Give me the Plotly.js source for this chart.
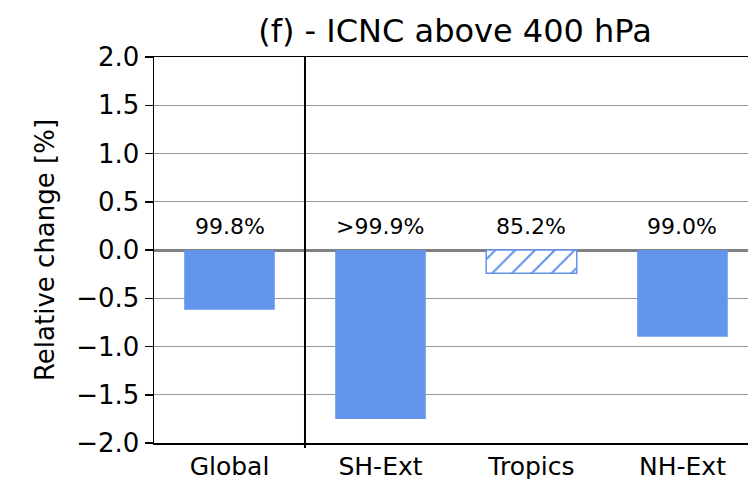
<!DOCTYPE html>
<html>
<head>
<meta charset="utf-8">
<script src="https://cdn.plot.ly/plotly-3.0.1.min.js"></script>
<style>html,body{margin:0;padding:0;background:#fff;overflow:hidden}</style>
</head>
<body>
<div id="chart" style="width:748px;height:479px"></div>
<script>
var regions = ["Global", "SH-Ext", "Tropics", "NH-Ext"];
var relChange = [-0.62, -1.75, -0.24, -0.90];
var confidence = ["99.8%", ">99.9%", "85.2%", "99.0%"];
var significant = [true, true, false, true];
var labelY = 0.24;

var barColor = "#6495ed";
var sigX = [], sigY = [], nsX = [], nsY = [];
for (var i = 0; i < regions.length; i++) {
  if (significant[i]) { sigX.push(regions[i]); sigY.push(relChange[i]); }
  else { nsX.push(regions[i]); nsY.push(relChange[i]); }
}

var traces = [
  {type: "bar", x: sigX, y: sigY, width: 0.6,
   marker: {color: barColor, line: {width: 0}}, hoverinfo: "none"},
  {type: "bar", x: nsX, y: nsY, width: 0.6,
   marker: {color: "white", line: {color: barColor, width: 1.5},
            pattern: {shape: "/", fgcolor: barColor, bgcolor: "white", size: 14, solidity: 0.15}},
   hoverinfo: "none"}
];

var annotations = regions.map(function (r, i) {
  return {x: r, y: labelY, xref: "x", yref: "y", text: confidence[i], showarrow: false,
          font: {family: "DejaVu Sans", size: 22, color: "black"}};
});

var layout = {
  width: 748, height: 479,
  margin: {l: 154, r: 0, t: 57, b: 36},
  paper_bgcolor: "white", plot_bgcolor: "white",
  showlegend: false, barmode: "overlay",
  font: {family: "DejaVu Sans", color: "black"},
  title: {text: "(f) - ICNC above 400 hPa", x: 455 / 748, xanchor: "center",
          y: 1 - 31 / 479, yanchor: "middle", yref: "container",
          font: {family: "DejaVu Sans", size: 32, color: "black"}},
  xaxis: {type: "category", categoryorder: "array", categoryarray: regions,
          range: [-0.5, 3.434], showline: true, mirror: true, linecolor: "black", linewidth: 1.5,
          showgrid: false, ticks: "", tickfont: {size: 25}, zeroline: false},
  yaxis: {range: [-2.0, 2.0], dtick: 0.5, tick0: 0, tickformat: ".1f",
          showline: true, mirror: false, linecolor: "black", linewidth: 1.5,
          ticks: "outside", ticklen: 8, tickwidth: 1.5, tickcolor: "black",
          showgrid: true, gridcolor: "#999999", gridwidth: 1,
          zeroline: true, zerolinecolor: "#808080", zerolinewidth: 3,
          tickfont: {size: 26},
          title: {text: "Relative change [%]", font: {size: 26}, standoff: 14}},
  annotations: annotations,
  shapes: [
    {type: "line", xref: "x", yref: "paper", x0: 0.5, x1: 0.5, y0: -0.013, y1: 1,
     line: {color: "black", width: 2}}
  ]
};

Plotly.newPlot("chart", traces, layout, {displayModeBar: false, staticPlot: true});
</script>
</body>
</html>
